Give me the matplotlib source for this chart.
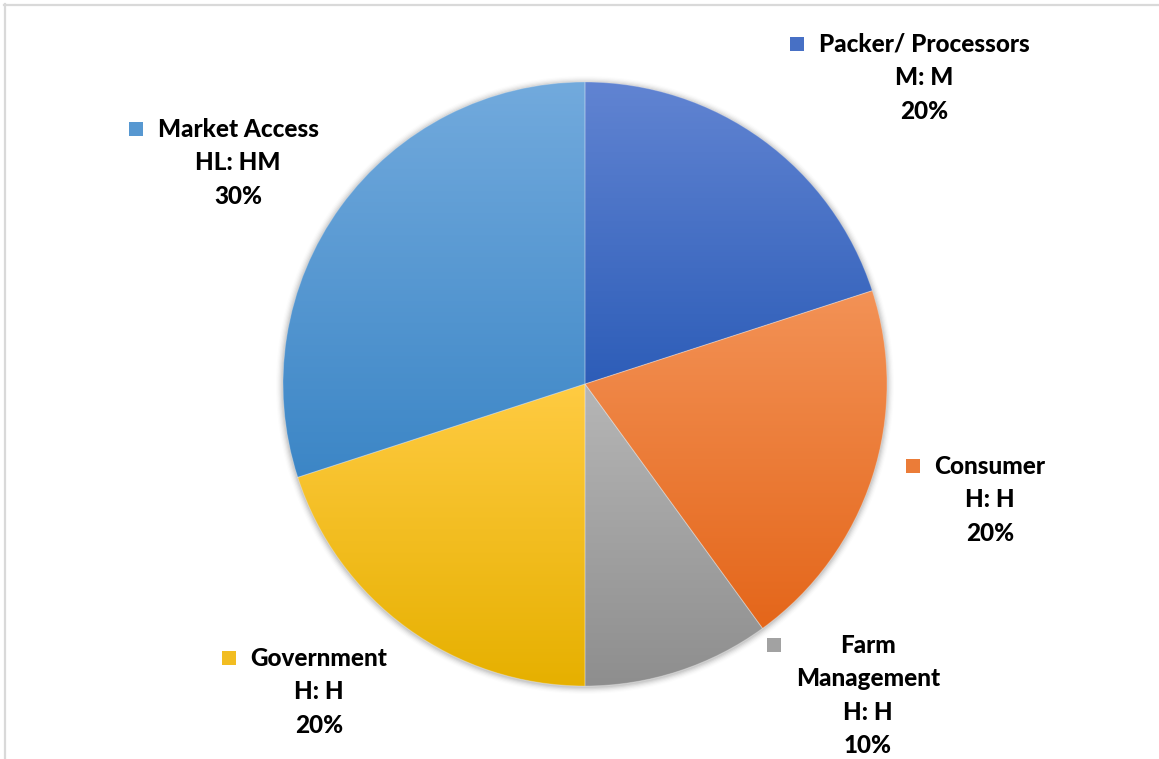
import matplotlib
matplotlib.use("Agg")
import matplotlib.pyplot as plt
import numpy as np
from matplotlib.lines import Line2D
from matplotlib.patches import Rectangle, Circle
from matplotlib.colors import LinearSegmentedColormap

# Stakeholder shares (clockwise from 12 o'clock)
categories = ["Packer/ Processors", "Consumer", "Farm\nManagement", "Government", "Market Access"]
ratings = ["M: M", "H: H", "H: H", "H: H", "HL: HM"]
shares = [20, 20, 10, 20, 30]

# top / bottom gradient colours for each slice
top_colors = ["#6184d2", "#f39256", "#b6b6b6", "#ffcb42", "#72aadd"]
bottom_colors = ["#2d5db8", "#e4661a", "#8e8e8e", "#e6b000", "#3c86c6"]

# label anchor points in pixels (centre x, first-line y), top-left origin
label_pos = [(924, 45), (990, 467), (868, 646), (319, 659), (238, 130)]

W, H = 1159, 759
fig = plt.figure(figsize=(W / 100, H / 100), dpi=100)
fig.patch.set_facecolor("white")
ax = fig.add_axes([0, 0, 1, 1])

cx, cy, R = 585, H - 384, 302

# soft shadow around the pie
for i, a in enumerate(np.linspace(0.06, 0.01, 6)):
    ax.add_patch(Circle((cx, cy - 1), R + 1 + i * 1.2, facecolor="black",
                        edgecolor="none", alpha=a, zorder=0))

wedges, _ = ax.pie(shares, startangle=90, counterclock=False, center=(cx, cy),
                   radius=R, frame=True,
                   wedgeprops=dict(edgecolor=(1, 1, 1, 0.25), linewidth=0.7))
ax.set_xlim(0, W)
ax.set_ylim(0, H)
ax.set_axis_off()

grad = np.linspace(0, 1, 256).reshape(-1, 1)
for w, c0, c1 in zip(wedges, top_colors, bottom_colors):
    w.set_facecolor("none")
    w.set_zorder(3)
    ext = w.get_path().get_extents()
    cmap = LinearSegmentedColormap.from_list("g", [c0, c1])
    im = ax.imshow(grad, cmap=cmap, aspect="auto", origin="upper",
                   extent=[ext.x0, ext.x1, ext.y0, ext.y1], zorder=2,
                   interpolation="bilinear")
    im.set_clip_path(w)

ax.set_xlim(0, W)
ax.set_ylim(0, H)

# labels with square markers
font = dict(family="Lato", weight="black", size=17.5)
fig.canvas.draw()
renderer = fig.canvas.get_renderer()
for i, (name, rate, share, (px, py)) in enumerate(zip(categories, ratings, shares, label_pos)):
    txt = f"{name}\n{rate}\n{share}%"
    t = fig.text(px / W, 1 - (py - 12) / H, txt, ha="center", va="top",
                 multialignment="center", linespacing=1.55, color="black", **font)
    bb = t.get_window_extent(renderer)
    first_y = H - py
    ms = 13.5
    left = bb.x0 - 15 - ms
    sq_col = LinearSegmentedColormap.from_list("s", [top_colors[i], bottom_colors[i]])(0.5)
    fig.patches.append(Rectangle((left / W, (first_y - ms / 2 + 1) / H), ms / W, ms / H,
                                 transform=fig.transFigure, facecolor=sq_col,
                                 edgecolor="none", figure=fig))

# chart frame
frame_col = "#d9d9d9"
fig.lines.append(Line2D([4 / W, 1], [1 - 4.5 / H, 1 - 4.5 / H], transform=fig.transFigure,
                        color=frame_col, linewidth=1.6, figure=fig))
fig.lines.append(Line2D([4.5 / W, 4.5 / W], [0, 1 - 4 / H], transform=fig.transFigure,
                        color=frame_col, linewidth=1.6, figure=fig))

fig.savefig("out.png", dpi=100, facecolor="white")
